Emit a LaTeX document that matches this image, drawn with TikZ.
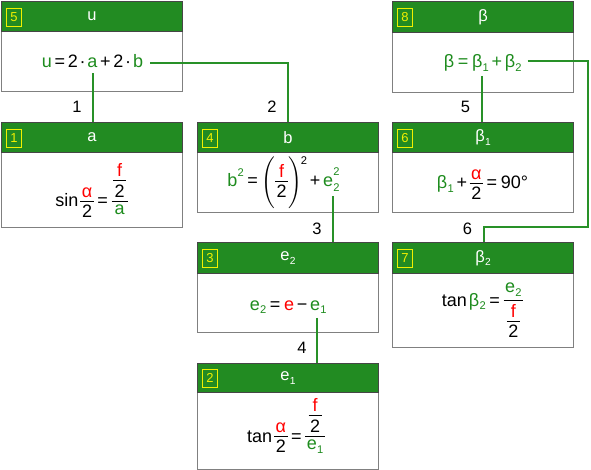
\documentclass[tikz,border=0pt]{standalone}
\usepackage{amsmath}
\usepackage{graphicx}
\usepackage{fontspec}
\setmainfont{Liberation Sans}
\definecolor{hgreen}{RGB}{34,139,34}
\definecolor{hborder}{RGB}{70,70,70}
\definecolor{vgreen}{RGB}{30,140,30}
\definecolor{vred}{RGB}{255,0,0}
\definecolor{bgray}{RGB}{128,128,128}
\definecolor{byellow}{RGB}{240,240,0}
\definecolor{cgreen}{RGB}{40,145,40}
\newlength\fgap \setlength\fgap{3.5pt}
\newcommand\gr[1]{{\color{vgreen}#1}}
\newcommand\rd[1]{{\color{vred}#1}}
\newcommand\sbx[1]{\kern0.3pt\raisebox{-0.22em}{\scalebox{0.62}{#1}}}
\newcommand\spx[1]{\kern0.3pt\raisebox{0.6em}{\scalebox{0.62}{#1}}}
\newcommand\sbsp[2]{\kern0.3pt\rlap{\raisebox{0.66em}{\scalebox{0.62}{#2}}}\raisebox{-0.24em}{\scalebox{0.62}{#1}}}
\newcommand\Eq{\kern0.15em=\kern0.15em}
\newcommand\EqF{\kern0.2em=\kern0.2em}
\newcommand\Pl{\kern0.15em+\kern0.15em}
\newcommand\Mi{\kern0.15em−\kern0.15em}
\newcommand\Dt{\kern0.1em·\kern0.1em}
\newcommand\fr[2]{\begingroup\setbox0\hbox{#1}\setbox2\hbox{#2}%
  \ifdim\wd0>\wd2 \dimen0=\wd0 \else \dimen0=\wd2 \fi
  \advance\dimen0 by 3pt
  \raisebox{0.3em}{\vbox{\hbox to\dimen0{\hss\box0\hss}\kern\fgap\hrule height 0.9pt}%
    \kern-\dimen0
    \vtop{\hrule height 0pt width \dimen0\kern\fgap\hbox to\dimen0{\hss\box2\hss}}}%
  \endgroup}
\tikzset{
  hdr/.style={draw=hborder, fill=hgreen, text=white, line width=1pt, inner sep=0pt,
    minimum width=181pt, anchor=north west, font=\fontsize{16.5}{19}\selectfont},
  bodyb/.style={draw=bgray, fill=white, line width=1.3pt, inner sep=0pt,
    minimum width=181pt, anchor=north west},
  badge/.style={draw=byellow, text=byellow, line width=0.8pt, minimum width=15pt,
    minimum height=18pt, inner sep=0pt, anchor=north west, font=\fontsize{13}{15}\selectfont},
  conn/.style={draw=cgreen, line width=2pt},
  part/.style={inner sep=0pt, outer sep=0pt, font=\fontsize{18}{21}\selectfont},
  frm/.style={inner sep=0pt, outer sep=0pt, anchor=base, font=\fontsize{18}{21}\selectfont},
  lab/.style={text=black, inner sep=0pt, font=\fontsize{16.5}{19}\selectfont}
}
\begin{document}
\begin{tikzpicture}[x=1pt,y=-1pt]
\useasboundingbox (0,0) rectangle (591,470);
\fill[white] (0,0) rectangle (591,470);

% ---- box 5 : u
\node[bodyb, minimum height=60pt] (b5) at (1,31) {};
\node[hdr, minimum height=30pt] (h5) at (1,1) {u};
\node[badge] (n5) at ([xshift=5pt,yshift=-7pt]h5.north west) {5};
\node[part, anchor=base] (ua) at (92.5,68) {\gr{a}};
\node[part, anchor=base east] (uL) at (ua.base west) {\gr{u}\Eq2\Dt};
\node[part, anchor=base west] (uM) at (ua.base east) {\Pl2\Dt};
\node[part, anchor=base west] (ub) at (uM.base east) {\gr{b}};

% ---- box 1 : a
\node[bodyb, minimum height=75pt] (b1) at (1,152) {};
\node[hdr, minimum height=30pt] (h1) at (1,122) {a};
\node[badge] (n1) at ([xshift=5pt,yshift=-7pt]h1.north west) {1};
\node[frm] (f1) at (91.5,207) {sin\kern2pt\fr{\rd{α}}{2}\EqF\fr{\fr{\rd{f}}{2}}{\gr{a}}};

% ---- box 4 : b
\node[bodyb, minimum height=60pt] (b4) at (197,152) {};
\node[hdr, minimum height=30pt] (h4) at (197,122) {b};
\node[badge] (n4) at ([xshift=5pt,yshift=-7pt]h4.north west) {4};
\node[part, anchor=base west] (f4e) at (323,187) {\gr{e\sbsp{2}{2}}};
\node[part, anchor=base east] (f4a) at (f4e.base west) {\gr{b\spx{2}}\EqF\smash{$\Biggl(\fr{\rd{f}}{2}\Biggr)$\kern-1pt\raisebox{1.25em}{\scalebox{0.62}{2}}}\Pl};

% ---- box 3 : e2
\node[bodyb, minimum height=59pt] (b3) at (197,273) {};
\node[hdr, minimum height=31pt] (h3) at (197,242) {e\sbx{2}};
\node[badge] (n3) at ([xshift=5pt,yshift=-7pt]h3.north west) {3};
\node[part, anchor=base west] (f3e) at (310,310) {\gr{e\sbx{1}}};
\node[part, anchor=base east] (f3a) at (f3e.base west) {\gr{e\sbx{2}}\EqF\rd{e}\Mi};

% ---- box 2 : e1
\node[bodyb, minimum height=77pt] (b2) at (197,392) {};
\node[hdr, minimum height=29pt] (h2) at (197,363) {e\sbx{1}};
\node[badge] (n2) at ([xshift=5pt,yshift=-6pt]h2.north west) {2};
\node[frm] (f2) at (286,442) {tan\kern2pt\fr{\rd{α}}{2}\EqF\fr{\fr{\rd{f}}{2}}{\gr{e\sbx{1}}}};

% ---- box 8 : beta
\node[bodyb, minimum height=60pt] (b8) at (392,32) {};
\node[hdr, minimum height=31pt] (h8) at (392,1) {β};
\node[badge] (n8) at ([xshift=5pt,yshift=-7pt]h8.north west) {8};
\node[part, anchor=base west] (b1n) at (472,68) {\gr{β\sbx{1}}};
\node[part, anchor=base east] (b8a) at (b1n.base west) {\gr{β\EqF}};
\node[part, anchor=base west] (b8c) at (b1n.base east) {\gr{\Pl}};
\node[part, anchor=base west] (b2n) at (b8c.base east) {\gr{β\sbx{2}}};

% ---- box 6 : beta1
\node[bodyb, minimum height=60pt] (b6) at (392,152) {};
\node[hdr, minimum height=30pt] (h6) at (392,122) {β\sbx{1}};
\node[badge] (n6) at ([xshift=5pt,yshift=-7pt]h6.north west) {6};
\node[frm] (f6) at (482.5,189) {\gr{β\sbx{1}}\Pl\fr{\rd{α}}{2}\EqF 90°};

% ---- box 7 : beta2
\node[bodyb, minimum height=74pt] (b7) at (392,273) {};
\node[hdr, minimum height=31pt] (h7) at (392,242) {β\sbx{2}};
\node[badge] (n7) at ([xshift=5pt,yshift=-7pt]h7.north west) {7};
\node[frm] (f7) at (482.5,306) {tan\kern2pt\gr{β\sbx{2}}\EqF\fr{\gr{e\sbx{2}}}{\fr{\rd{f}}{2}}};

% ---- connectors
\coordinate (c6) at (588,227);
\draw[conn] ([xshift=0.5pt,yshift=-5pt]ua.south) -- ([xshift=0.5pt]ua.south |- h1.north);
\draw[conn] ([xshift=7pt,yshift=-1.5pt]ub.east) -| ([xshift=-0.5pt]h4.north);
\draw[conn] ([xshift=1.5pt,yshift=-5pt]f4e.south) -- ([xshift=1.5pt]f4e.south |- h3.north);
\draw[conn] ([xshift=-1pt,yshift=-4pt]f3e.south) -- ([xshift=-1pt]f3e.south |- h2.north);
\draw[conn] ([xshift=2pt,yshift=-4pt]b1n.south) -- ([xshift=2pt]b1n.south |- h6.north);
\draw[conn] ([xshift=6pt,yshift=2pt]b2n.east) -| (c6) -| ([xshift=0.5pt]h7.north);

% ---- labels
\node[lab] (l1) at (77,107) {1};
\node[lab] (l2) at (272,107) {2};
\node[lab] (l3) at (317,229) {3};
\node[lab] (l4) at (302,348) {4};
\node[lab] (l5) at (465.5,107) {5};
\node[lab] (l6) at (467.5,228.5) {6};
\end{tikzpicture}
\end{document}
